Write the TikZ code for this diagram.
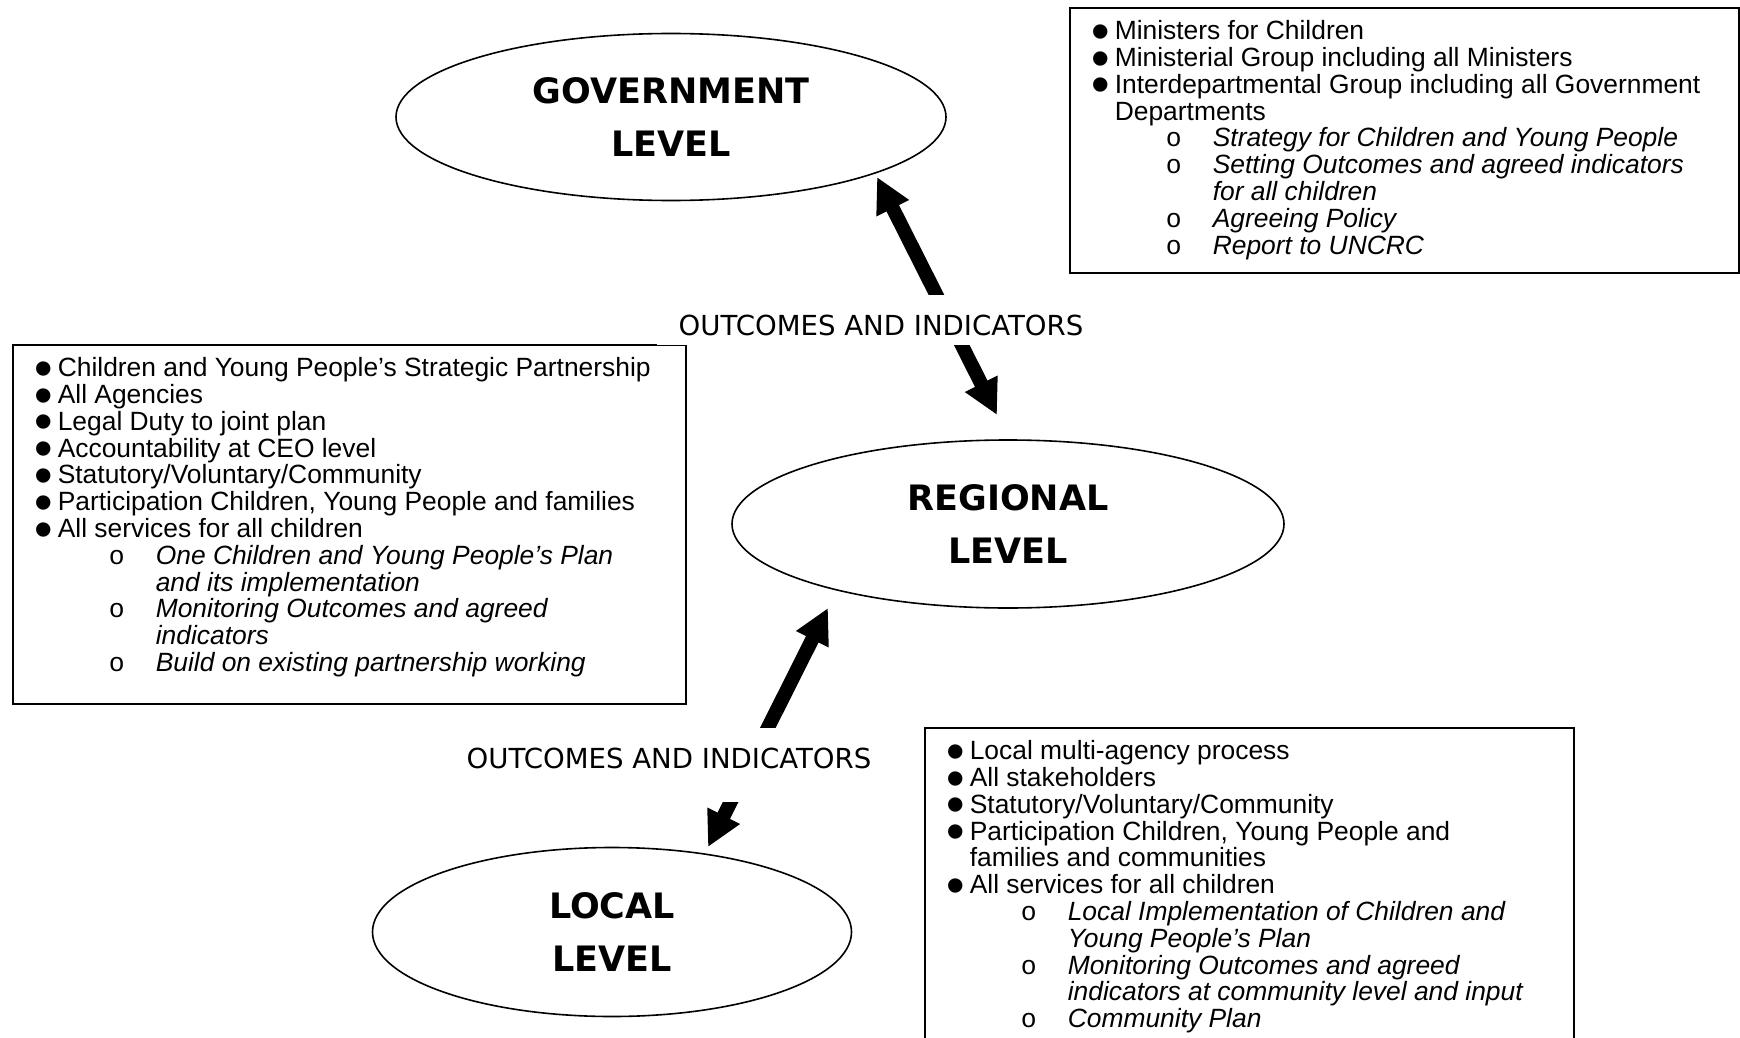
\documentclass[tikz,border=0pt]{standalone}
\usepackage{fontspec}
\setmainfont{Liberation Sans}
\setmonofont{Liberation Mono}
\newfontfamily\comicfont{DejaVu Sans}
\usetikzlibrary{shapes.geometric,arrows.meta}

\newcommand\mybullet{\smash{\hspace*{-1pt}\raisebox{-4.8pt}{\scalebox{2.0}{\textbullet}}}}
\newcommand\bulletline[1]{\mbox{\makebox[10.5pt][l]{\mybullet}#1}\par}
\newcommand\bulletmore[1]{\mbox{\hspace*{10.5pt}#1}\par}
\newcommand\circline[1]{\mbox{\hspace*{36pt}\makebox[23.5pt][l]{\ttfamily o}\textit{#1}}\par}
\newcommand\circmore[1]{\mbox{\hspace*{59.5pt}\textit{#1}}\par}
\newcommand\boxtext[3]{\parbox[c][#2][t]{#1}{\fontsize{13.2}{13.4}\selectfont #3}}

\begin{document}
\begin{tikzpicture}[x=0.5pt, y=-0.5pt,
    level/.style={ellipse, draw, line width=0.8pt, inner sep=0pt, align=center,
        font=\comicfont\bfseries\fontsize{17.5}{26.5}\selectfont},
    infobox/.style={draw, line width=0.8pt, anchor=north west, inner xsep=12pt, inner ysep=6.4pt},
    flow/.style={fill=white, inner xsep=11pt, inner ysep=0pt, anchor=base,
        font=\comicfont\fontsize{13.8}{16}\selectfont},
    bigarrow/.style={line width=7pt, {Triangle[length=17.5pt,width=17pt]}-{Triangle[length=17.5pt,width=17pt]}},
]
\useasboundingbox (0,0) rectangle (1740,1038);
\clip (0,0) rectangle (1740,1038);

% boxes
\node[infobox] (govbox) at (1069,7) {\boxtext{310.5pt}{119.7pt}{%
  \bulletline{Ministers for Children}
  \bulletline{Ministerial Group including all Ministers}
  \bulletline{Interdepartmental Group including all Government}
  \bulletmore{Departments}
  \circline{Strategy for Children and Young People}
  \circline{Setting Outcomes and agreed indicators}
  \circmore{for all children}
  \circline{Agreeing Policy}
  \circline{Report to UNCRC}}};

\node[infobox] (regbox) at (12,344) {\boxtext{312.5pt}{166.7pt}{%
  \bulletline{Children and Young People’s Strategic Partnership}
  \bulletline{All Agencies}
  \bulletline{Legal Duty to joint plan}
  \bulletline{Accountability at CEO level}
  \bulletline{Statutory/Voluntary/Community}
  \bulletline{Participation Children, Young People and families}
  \bulletline{All services for all children}
  \circline{One Children and Young People’s Plan}
  \circmore{and its implementation}
  \circline{Monitoring Outcomes and agreed}
  \circmore{indicators}
  \circline{Build on existing partnership working}}};

\node[infobox] (locbox) at (924,727) {\boxtext{300.5pt}{175pt}{%
  \bulletline{Local multi-agency process}
  \bulletline{All stakeholders}
  \bulletline{Statutory/Voluntary/Community}
  \bulletline{Participation Children, Young People and}
  \bulletmore{families and communities}
  \bulletline{All services for all children}
  \circline{Local Implementation of Children and}
  \circmore{Young People’s Plan}
  \circline{Monitoring Outcomes and agreed}
  \circmore{indicators at community level and input}
  \circline{Community Plan}}};

% levels
\node[level, minimum width=275pt, minimum height=83.5pt] (gov) at (671,117) {GOVERNMENT\\LEVEL};
\node[level, minimum width=276pt, minimum height=84pt] (reg) at (1008,524) {REGIONAL\\LEVEL};
\node[level, minimum width=239.5pt, minimum height=84.5pt] (loc) at (612,932) {LOCAL\\LEVEL};

% arrows
\coordinate (govtip) at (877,177);
\coordinate (regtop) at (997,415);
\coordinate (regtip) at (828,608);
\coordinate (loctop) at (708,847);
\draw[bigarrow] (govtip) -- (regtop);
\draw[bigarrow] (regtip) -- (loctop);

\node[flow, text height=20pt, text depth=5pt] (flowup) at (881,335) {OUTCOMES AND INDICATORS};
\node[flow, text height=20pt, text depth=17pt] (flowdown) at (669,768) {OUTCOMES AND INDICATORS};

\end{tikzpicture}
\end{document}
